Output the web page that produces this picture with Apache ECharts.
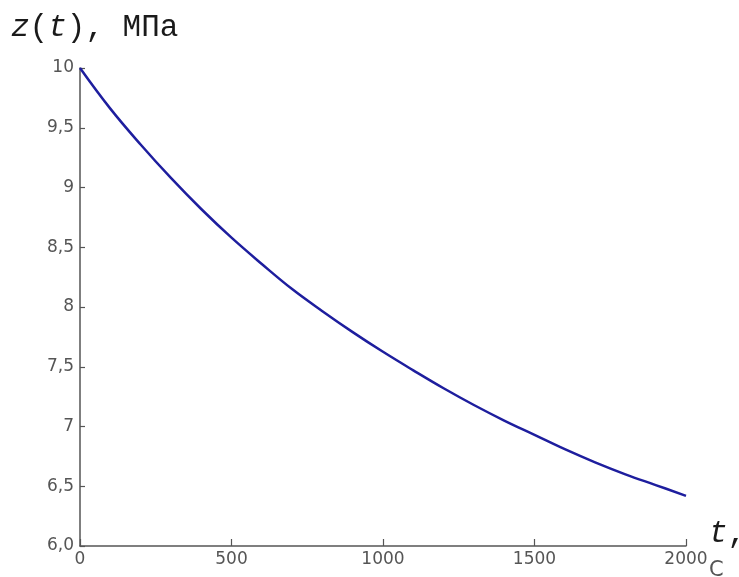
<!DOCTYPE html>
<html>
<head>
<meta charset="utf-8">
<script src="https://cdn.jsdelivr.net/npm/echarts@6/dist/echarts.min.js"></script>
<style>html,body{margin:0;padding:0;background:#fff}#c{width:739px;height:577px}</style>
</head>
<body>
<div id="c"></div>
<script>
// time, s
const tValues = [0,100,200,300,400,500,600,700,800,900,1000,1100,1200,1300,1400,1500,1600,1700,1800,1900,2000];
// z(t), MPa
const zValues = [10.00,9.66,9.36,9.08,8.82,8.58,8.36,8.15,7.965,7.79,7.625,7.47,7.32,7.18,7.05,6.93,6.81,6.70,6.60,6.51,6.42];
const yTickLabels = {6:'6,0',6.5:'6,5',7:'7',7.5:'7,5',8:'8',8.5:'8,5',9:'9',9.5:'9,5',10:'10'};
const xTickLabels = ['0','500','1000','1500','2000'];

const chart = echarts.init(document.getElementById('c'), null, {renderer:'canvas'});
const axisColor = '#555';
const labelFont = {color:'#555', fontFamily:'DejaVu Sans', fontSize:17};
chart.setOption({
  animation:false,
  backgroundColor:'#fff',
  grid:{left:80, right:53, top:68, bottom:31},
  xAxis:{
    type:'value', min:0, max:2000, interval:500,
    axisLine:{show:true, lineStyle:{color:axisColor, width:1.5}},
    axisTick:{show:true, inside:true, length:7, lineStyle:{color:axisColor, width:1.2}},
    axisLabel:Object.assign({margin:5, formatter:(v)=>xTickLabels[Math.round(v/500)]}, labelFont),
    splitLine:{show:false}
  },
  yAxis:{
    type:'value', min:6, max:10, interval:0.5,
    axisLine:{show:true, lineStyle:{color:axisColor, width:1.5}},
    axisTick:{show:true, inside:true, length:5, lineStyle:{color:axisColor, width:1.2}},
    axisLabel:Object.assign({margin:6, formatter:(v)=>yTickLabels[v]}, labelFont),
    splitLine:{show:false}
  },
  graphic:[
    {type:'text', left:11, top:12, style:{
      text:'{i|z}{n|(}{i|t}{n|), МПа}',
      rich:{
        i:{fontFamily:'Liberation Mono', fontSize:31, fontStyle:'italic', fill:'#1a1a1a'},
        n:{fontFamily:'Liberation Mono', fontSize:31, fill:'#1a1a1a'}
      }
    }},
    {type:'text', left:709, top:518, style:{
      text:'{i|t}{n|,}',
      rich:{
        i:{fontFamily:'Liberation Mono', fontSize:31, fontStyle:'italic', fill:'#1a1a1a'},
        n:{fontFamily:'Liberation Mono', fontSize:31, fill:'#1a1a1a'}
      }
    }},
    {type:'text', left:709, top:560, style:{text:'С', fontFamily:'DejaVu Sans', fontSize:21, fill:'#555'}}
  ],
  series:[{
    type:'line',
    data:tValues.map((t,i)=>[t,zValues[i]]),
    showSymbol:false,
    smooth:0.4,
    lineStyle:{color:'#1e1e9e', width:2.5}
  }]
});
</script>
</body>
</html>
